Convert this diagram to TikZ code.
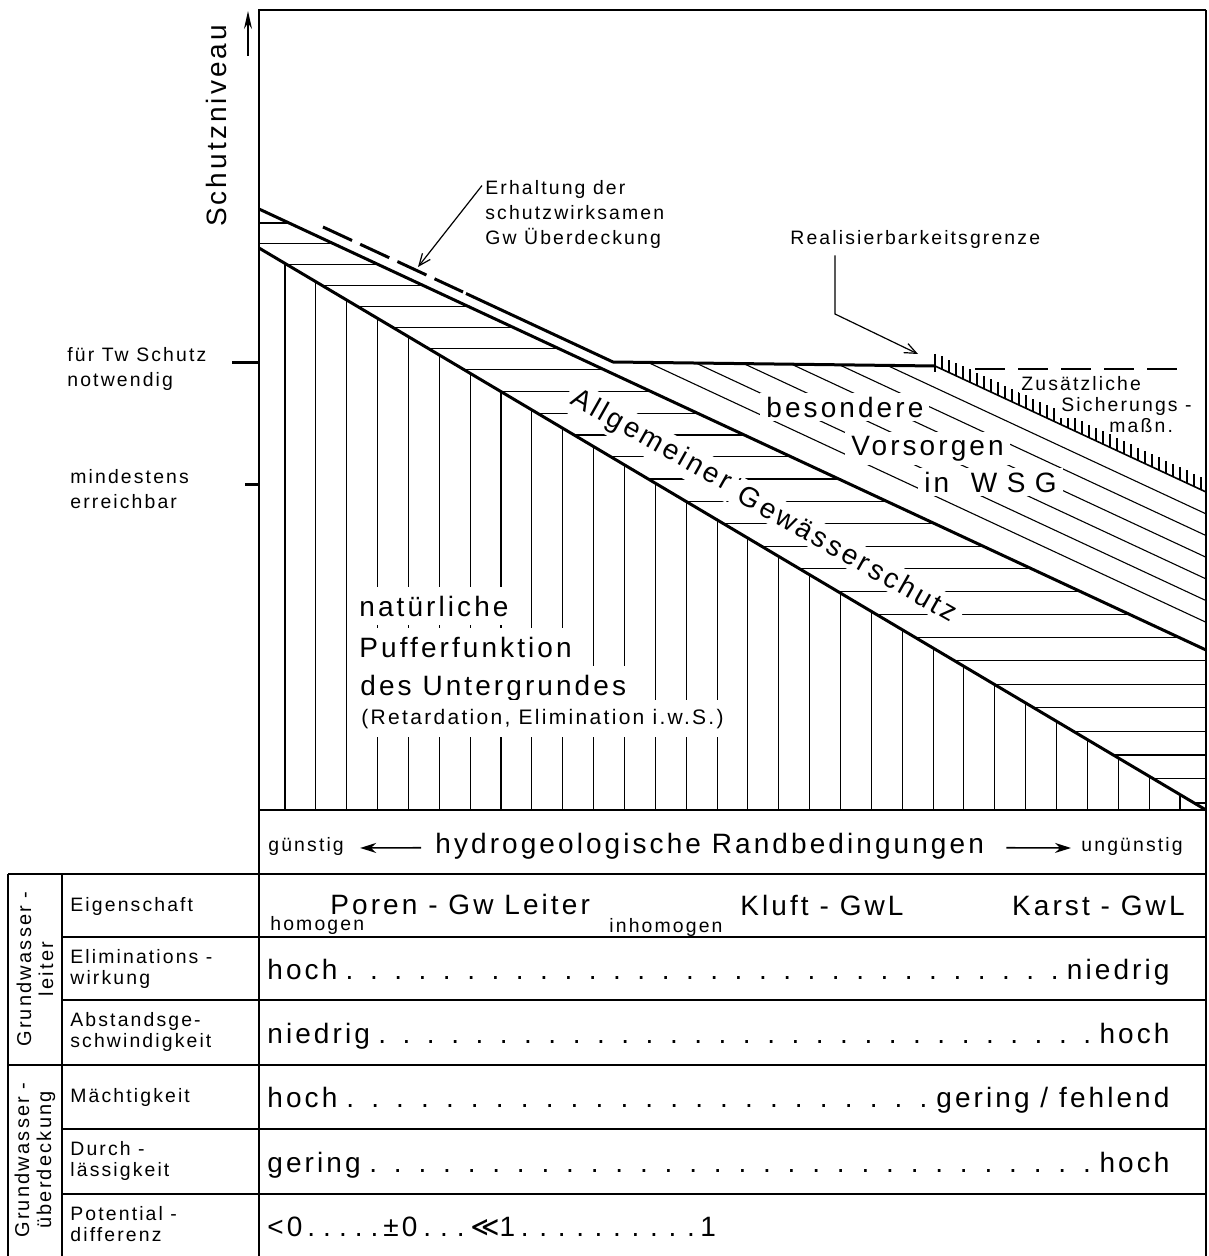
\documentclass[tikz,border=0pt]{standalone}
\usepackage{fontspec}
\setmainfont{Liberation Sans}[LetterSpace=11]
\newfontfamily\symfont{DejaVu Sans}[LetterSpace=11]
\usetikzlibrary{arrows.meta}

% dotted leaders between two values
\newcommand{\dotrow}[2]{\hbox to 451pt{#1\xleaders\hbox to 12pt{\hss.\hss}\hfill #2}}
\newcommand{\dotcell}[3]{\hbox to #1{#3\xleaders\hbox to #2{\hss.\hss}\hfill}}

\begin{document}
\begin{tikzpicture}[x=0.5pt, y=-0.5pt,
    bold/.style={line width=1.5pt},
    frame/.style={line width=1.2pt},
    hatch/.style={line width=0.55pt},
    bigtext/.style={font=\fontsize{14}{20}\selectfont, inner sep=0pt},
    smalltext/.style={font=\fontsize{9.7}{12.5}\selectfont, inner sep=0pt},
    tabtext/.style={font=\fontsize{9.7}{10.5}\selectfont, inner sep=0pt},
    blank/.style={fill=white, inner xsep=3pt, inner ysep=4.5pt},
    leader/.style={line width=0.6pt, -{Straight Barb[length=6pt,width=5pt]}}]
  \fill[white] (0,0) rectangle (1208,1256);
  \useasboundingbox (0,0) rectangle (1208,1256);

  % vertical hatch: natuerliche Pufferfunktion
  \foreach \j in {0,...,29}{
    \pgfmathsetmacro\hx{285+30.86*\j}
    \pgfmathsetmacro\hy{248+0.5935*(\hx-259)}
    \draw[hatch] (\hx,\hy) -- (\hx,810);
  }
  % horizontal hatch: allgemeiner Gewaesserschutz
  \foreach \k in {0,...,26}{
    \pgfmathsetmacro\hy{223+20.5*\k+0.0695*\k*\k}
    \pgfmathsetmacro\xl{max(259,259+(\hy-248)/0.5935)}
    \pgfmathsetmacro\xr{min(1206,259+(\hy-209)/0.4657)}
    \draw[hatch] (\xl,\hy) -- (\xr,\hy);
  }
  % diagonal hatch: WSG
  \foreach \k in {0,...,5}{
    \pgfmathsetmacro\hx{650+47.5*\k}
    \pgfmathsetmacro\hy{363+0.0093*(\hx-613)}
    \draw[hatch] (\hx,\hy) -- (1206,{\hy+0.4657*(1206-\hx)});
  }
  % ticks on Realisierbarkeitsgrenze
  \foreach \x in {942,949,...,1204}{
    \draw[hatch] (\x,{366+0.4657*(\x-935)}) -- ++(0,-13);
  }

  % texts in the areas
  \node[bigtext, blank, anchor=base west] (nat1) at (353,616) {natürliche};
  \node[bigtext, blank, anchor=base west] (nat2) at (353,657) {Pufferfunktion};
  \node[bigtext, blank, anchor=base west] (nat3) at (354,695) {des Untergrundes};
  \node[font=\fontsize{10.5}{12}\selectfont, blank, anchor=base west] (nat4) at (355,724) {(Retardation, Elimination i.w.S.)};
  \node[bigtext, blank, inner ysep=2pt, rotate=-29.5] (allg1) at (651,441) {Allgemeiner};
  \node[bigtext, blank, inner ysep=2pt, rotate=-29.5] (allg2) at (848,553) {Gewässerschutz};
  \node[bigtext, blank, inner ysep=2pt, anchor=base west] (bes1) at (760,417) {besondere};
  \node[bigtext, blank, inner ysep=2pt, anchor=base west] (bes2) at (845,455) {Vorsorgen};
  \node[bigtext, blank, inner ysep=2pt, anchor=base west] (bes3) at (918,492) {in\ \ W\,\,S\,\,G};
  \node[smalltext, blank, anchor=base west, inner sep=1pt] (zus1) at (1019,391) {Zusätzliche};
  \node[smalltext, blank, anchor=base west, inner sep=1pt] (zus2) at (1059,412) {Sicherungs -};
  \node[smalltext, blank, anchor=base west, inner sep=1pt] (zus3) at (1107,432) {maßn.};

  % protection level lines
  \draw[bold] (259,248) -- (1206,810);
  \draw[bold] (259,209) -- (1206,650);
  \draw[bold, dash pattern=on 16pt off 4.5pt] (323,227) -- (463,292);
  \draw[bold] (466,293.5) -- (613,362) -- (935,366);
  \draw[line width=0.8pt] (935,366) -- (1206,492);
  \draw[line width=0.9pt] (935,354) -- (935,372);
  \draw[line width=1.2pt, dash pattern=on 15pt off 6.5pt] (975,369) -- (1183,369);

  % frame and axis
  \draw[frame] (259,1256) -- (259,10) -- (1206,10);
  \draw[frame] (259,810) -- (1206,810);
  \draw[line width=0.8pt] (1206,10) -- (1206,1256);
  \draw[bold] (232,363) -- (259,363);
  \draw[bold] (245,484) -- (259,484);
  \coordinate (ytail) at (248,56);
  \coordinate (yhead) at (248,11);
  \draw[line width=0.8pt, -{Stealth[length=9pt,width=4pt]}] (ytail) -- (yhead);
  \node[bigtext, rotate=90] (yname) at (216,126) {Schutzniveau};
  \node[smalltext, anchor=west, align=left] (twschutz) at (67,369) {für Tw Schutz\\notwendig};
  \node[smalltext, anchor=west, align=left] (mindest) at (70,489) {mindestens\\erreichbar};

  % annotations with leaders
  \node[smalltext, anchor=base west, align=left] (erh) at (485,245) {Erhaltung der\\schutzwirksamen\\Gw Überdeckung};
  \coordinate (erhtip) at (418,267);
  \draw[leader] ([xshift=-1.5pt,yshift=-2.5pt]erh.north west) -- (erhtip);
  \node[smalltext, anchor=base west] (real) at (790,245) {Realisierbarkeitsgrenze};
  \coordinate (realknee) at (835,314);
  \coordinate (realtip) at (918,354);
  \draw[leader] (real.south -| realknee) ++(0,6) -- (realknee) -- (realtip);

  % boundary conditions row
  \node[smalltext, anchor=base west] (guenstig) at (268,851) {günstig};
  \node[bigtext, anchor=base west] (hydro) at (435,853) {hydrogeologische Randbedingungen};
  \node[smalltext, anchor=base east] (unguenstig) at (1183,851) {ungünstig};
  \draw[line width=0.8pt, -{Stealth[length=8pt,width=5pt]}] ([xshift=-7pt,yshift=-1pt]hydro.west) -- ([xshift=8pt,yshift=-1pt]guenstig.east);
  \draw[line width=0.8pt, -{Stealth[length=8pt,width=5pt]}] ([xshift=11pt,yshift=-1pt]hydro.east) -- ([xshift=-5pt,yshift=-1pt]unguenstig.west);

  % table
  \draw[frame] (8,874) -- (1206,874);
  \foreach \y in {937,1000,1129,1194}{
    \draw[frame] (62,\y) -- (1206,\y);
  }
  \draw[frame] (8,1065) -- (1206,1065);
  \draw[frame] (8,874) -- (8,1256);
  \draw[frame] (62,874) -- (62,1256);

  \node[tabtext, rotate=90, align=center, font=\fontsize{10}{11}\selectfont] (gwl) at (35,969) {Grundwasser -\\leiter};
  \node[tabtext, rotate=90, align=center, font=\fontsize{10}{11}\selectfont] (gwu) at (35,1160) {Grundwasser -\\überdeckung};

  \node[tabtext, anchor=west] (eig) at (70,906) {Eigenschaft};
  \node[tabtext, anchor=west, align=left] (elim) at (70,969) {Eliminations -\\wirkung};
  \node[tabtext, anchor=west, align=left] (abst) at (70,1032) {Abstandsge-\\schwindigkeit};
  \node[tabtext, anchor=west] (maecht) at (70,1097) {Mächtigkeit};
  \node[tabtext, anchor=west, align=left] (durch) at (70,1161) {Durch -\\lässigkeit};
  \node[tabtext, anchor=west, align=left] (pot) at (70,1224) {Potential -\\differenz};

  \node[bigtext, anchor=base west] (poren) at (330,914) {Poren - Gw Leiter};
  \node[tabtext, anchor=base west] (homog) at (270,930) {homogen};
  \node[tabtext, anchor=base west] (inhomog) at (609,932) {inhomogen};
  \node[bigtext, anchor=base west] (kluft) at (740,915) {Kluft - GwL};
  \node[bigtext, anchor=base east] (karst) at (1185,915) {Karst - GwL};
  \node[bigtext, anchor=base west] (elimval) at (267,979) {\dotrow{hoch}{niedrig}};
  \node[bigtext, anchor=base west] (abstval) at (267,1043) {\dotrow{niedrig}{hoch}};
  \node[bigtext, anchor=base west] (maechtval) at (267,1107) {\dotrow{hoch}{gering\ /\ fehlend}};
  \node[bigtext, anchor=base west] (durchval) at (267,1172) {\dotrow{gering}{hoch}};
  \node[bigtext, anchor=base west] (potval) at (267,1236) {\dotcell{58pt}{7pt}{<0}\dotcell{43.5pt}{7pt}{±0}\dotcell{115pt}{9pt}{{\symfont ≪}1}1};
\end{tikzpicture}
\end{document}
